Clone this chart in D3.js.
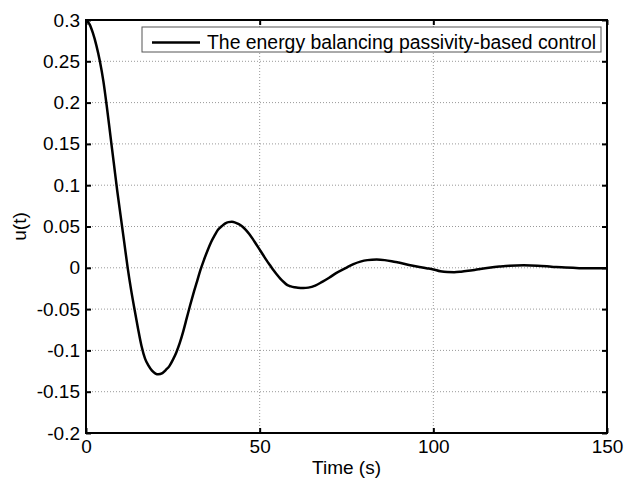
<!DOCTYPE html>
<html>
<head>
<meta charset="utf-8">
<script src="https://cdn.jsdelivr.net/npm/d3@7"></script>
<style>
  body { margin: 0; background: #fff; }
  text { font-family: "Liberation Sans", Arial, sans-serif; }
</style>
</head>
<body>
<script>
// time (s) and control signal u(t)
var timeVals = [0, 1, 2, 3, 4, 5, 6, 7, 8, 9, 10, 11, 12, 13, 14, 15, 16, 17, 18, 19, 20, 20.8,
    22, 23, 24, 25, 26, 27, 28, 29, 30, 31, 32, 33, 34, 35, 36, 37, 38, 39, 40, 41, 42, 43, 44,
    45, 46, 47, 48, 49, 50, 51, 52, 53, 54, 55, 56, 57, 58, 59, 60, 61, 62.6, 64, 66, 68, 70, 72,
    74.9, 77, 79, 81, 83.7, 86, 88, 90, 93, 96, 98, 100, 102, 104, 106, 108, 110, 113, 116, 119,
    122, 126, 130, 134, 138, 142, 146, 150];
var uVals = [0.300, 0.295, 0.284, 0.269, 0.250, 0.226, 0.195, 0.161, 0.127, 0.093, 0.062, 0.031,
    0.000, -0.027, -0.051, -0.074, -0.095, -0.110, -0.1185, -0.1245, -0.128, -0.129,
    -0.1275, -0.1235, -0.119, -0.1115, -0.1025, -0.091, -0.077, -0.061, -0.045, -0.030, -0.016,
    -0.002, 0.010, 0.021, 0.031, 0.039, 0.046, 0.050, 0.0535, 0.0553, 0.0556, 0.0547, 0.0528,
    0.050, 0.046, 0.041, 0.035, 0.0285, 0.022, 0.0155, 0.009, 0.003, -0.003, -0.0085, -0.0135,
    -0.0175, -0.021, -0.0225, -0.0235, -0.0242, -0.0245, -0.024, -0.0215, -0.017, -0.012, -0.0065,
    0.000, 0.0045, 0.0075, 0.0093, 0.010, 0.0093, 0.008, 0.0063, 0.0035, 0.001, -0.0005, -0.002,
    -0.0042, -0.0052, -0.0053, -0.0047, -0.0037, -0.0018, 0.000, 0.0015, 0.0026, 0.003, 0.0025,
    0.0014, 0.0003, -0.0004, -0.0006, -0.0004];
var xTicks = [0, 50, 100, 150];
var yTicks = [-0.2, -0.15, -0.1, -0.05, 0, 0.05, 0.1, 0.15, 0.2, 0.25, 0.3];
var legendLabel = "The energy balancing passivity-based control";

var data = timeVals.map(function (t, i) { return { t: t, u: uVals[i] }; });

var W = 625, H = 479;
var margin = { top: 20, right: 18, bottom: 46, left: 86 };
var width = W - margin.left - margin.right;
var height = H - margin.top - margin.bottom;

var svg = d3.select("body").append("svg")
    .attr("width", W)
    .attr("height", H);

var g = svg.append("g")
    .attr("transform", "translate(" + margin.left + "," + margin.top + ")");

var x = d3.scaleLinear().domain([0, 150]).range([0, width]);
var y = d3.scaleLinear().domain([-0.2, 0.3]).range([height, 0]);

// grid
g.append("g").selectAll("line")
    .data(xTicks.slice(1, -1))
    .enter().append("line")
    .attr("x1", function (d) { return x(d); })
    .attr("x2", function (d) { return x(d); })
    .attr("y1", 0).attr("y2", height)
    .attr("stroke", "#999").attr("stroke-width", 1)
    .attr("stroke-dasharray", "1,2");

g.append("g").selectAll("line")
    .data(yTicks.slice(1, -1))
    .enter().append("line")
    .attr("x1", 0).attr("x2", width)
    .attr("y1", function (d) { return y(d); })
    .attr("y2", function (d) { return y(d); })
    .attr("stroke", "#999").attr("stroke-width", 1)
    .attr("stroke-dasharray", "1,2");

// axes, ticks inward
var fmt = function (d) { return String(+d.toFixed(2)); };
g.append("g")
    .attr("transform", "translate(0," + height + ")")
    .call(d3.axisBottom(x).tickValues(xTicks).tickSizeInner(-5).tickSizeOuter(0).tickPadding(7));
g.append("g")
    .call(d3.axisLeft(y).tickValues(yTicks).tickFormat(fmt).tickSizeInner(-5).tickSizeOuter(0).tickPadding(6));
g.append("g")
    .call(d3.axisTop(x).tickValues(xTicks).tickSizeInner(-5).tickSizeOuter(0).tickFormat(""));
g.append("g")
    .attr("transform", "translate(" + width + ",0)")
    .call(d3.axisRight(y).tickValues(yTicks).tickSizeInner(-5).tickSizeOuter(0).tickFormat(""));

g.selectAll(".domain").remove();
g.selectAll(".tick line").attr("stroke", "#000").attr("stroke-width", 2);
g.selectAll(".tick text")
    .attr("fill", "#000")
    .style("font-size", "19px");

g.append("rect")
    .attr("width", width).attr("height", height)
    .attr("fill", "none").attr("stroke", "#000").attr("stroke-width", 2);

// curve
var line = d3.line()
    .x(function (d) { return x(d.t); })
    .y(function (d) { return y(d.u); })
    .curve(d3.curveMonotoneX);

g.append("path")
    .datum(data)
    .attr("fill", "none")
    .attr("stroke", "#000")
    .attr("stroke-width", 2.5)
    .attr("stroke-linejoin", "round")
    .attr("d", line);

// legend
var lg = svg.append("g").attr("transform", "translate(142,27)");
lg.append("rect")
    .attr("width", 459).attr("height", 25)
    .attr("fill", "#fff").attr("stroke", "#555").attr("stroke-width", 1);
lg.append("line")
    .attr("x1", 10).attr("x2", 58)
    .attr("y1", 15.5).attr("y2", 15.5)
    .attr("stroke", "#000").attr("stroke-width", 2.5);
lg.append("text")
    .attr("x", 65).attr("y", 21.5)
    .style("font-size", "19.4px")
    .text(legendLabel);

// axis labels
svg.append("text")
    .attr("x", margin.left + width / 2)
    .attr("y", 474)
    .attr("text-anchor", "middle")
    .style("font-size", "19px")
    .text("Time (s)");

svg.append("text")
    .attr("transform", "translate(26," + (margin.top + height / 2) + ") rotate(-90)")
    .attr("text-anchor", "middle")
    .style("font-size", "19px")
    .text("u(t)");
</script>
</body>
</html>
